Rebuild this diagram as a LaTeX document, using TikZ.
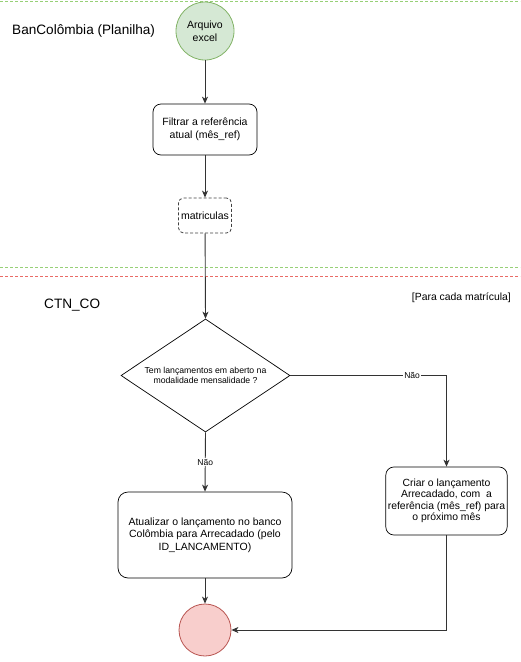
\documentclass[tikz,border=0pt]{standalone}
\usepackage{fontspec}
\setmainfont{Liberation Sans}
\usetikzlibrary{arrows.meta,shapes.geometric}
\definecolor{gfill}{HTML}{D5E8D4}
\definecolor{gline}{HTML}{82B366}
\definecolor{rfill}{HTML}{F8CECC}
\definecolor{rline}{HTML}{B85450}
\definecolor{gsep}{HTML}{97D077}
\definecolor{rsep}{HTML}{EA6B66}
\definecolor{edge}{HTML}{333333}
\tikzset{
  box/.style={draw=black, line width=0.7pt, rounded corners=8pt, align=center, inner sep=2pt, font=\fontsize{10.5}{13.5}\selectfont},
  conn/.style={draw=edge, line width=0.9pt, -{Stealth[length=7pt,width=6pt,inset=2pt]}},
  lbl/.style={fill=white, inner sep=1pt, font=\fontsize{8.5}{10}\selectfont},
  sep/.style={dashed, dash pattern=on 3pt off 2pt, line width=0.7pt},
}
\begin{document}
\begin{tikzpicture}[x=1pt,y=-1pt]
\useasboundingbox (0,0) rectangle (520,662);
% separators
\draw[sep, gsep] (0,1) -- (520,1);
\draw[sep, gsep] (0,267) -- (520,267);
\draw[sep, rsep] (0,276) -- (520,276);
% titles
\node[anchor=west, inner sep=0, font=\fontsize{13.6}{16}\selectfont] (t1) at (12,31) {BanColômbia (Planilha)};
\node[anchor=west, inner sep=0, font=\fontsize{13.6}{16}\selectfont] (t2) at (44,305) {CTN\_CO};
\node[anchor=east, inner sep=0, font=\fontsize{10.4}{12}\selectfont] (t3) at (511,298) {[Para cada matrícula]};
% nodes
\node[circle, draw=gline, fill=gfill, line width=0.8pt, minimum size=58pt, inner sep=0, align=center, font=\fontsize{10.5}{13.5}\selectfont] (start) at (205,31) {Arquivo\\excel};
\node[box, minimum width=104pt, minimum height=51pt] (filt) at (205,129.5) {Filtrar a referência\\atual (mês\_ref)};
\node[draw=black!75, line width=0.8pt, dashed, dash pattern=on 3pt off 2pt, rounded corners=5pt, minimum width=53pt, minimum height=35pt, inner sep=0, font=\fontsize{10.5}{13}\selectfont] (mat) at (205,215.5) {matriculas};
\node[diamond, draw=black, line width=0.7pt, minimum width=169pt, minimum height=113pt, inner sep=0, aspect=1.5, align=center, font=\fontsize{8.7}{10}\selectfont] (dec) at (205.5,375.5) {Tem lançamentos em aberto na\\modalidade mensalidade ?};
\node[box, rounded corners=10pt, minimum width=174pt, minimum height=86pt, font=\fontsize{10.5}{12.5}\selectfont] (upd) at (205,535) {Atualizar o lançamento no banco\\Colômbia para Arrecadado (pelo\\ID\_LANCAMENTO)};
\node[box, minimum width=121pt, minimum height=68pt, font=\fontsize{10.4}{11.4}\selectfont] (cri) at (446.5,501) {Criar o lançamento\\Arrecadado, com\ \ a\\referência (mês\_ref) para\\o próximo mês};
\node[circle, draw=rline, fill=rfill, line width=0.8pt, minimum size=52pt, inner sep=0] (endn) at (205,630) {};
% connectors
\draw[conn] (start) -- (filt);
\draw[conn] (filt) -- (mat);
\draw[conn] (mat) -- (dec.north);
\draw[conn] (dec.east) -| node[lbl, pos=0.39] {Não} (cri.north);
\draw[conn] (dec.south) -- node[lbl, pos=0.5] {Não} (upd.north);
\draw[conn] (upd) -- (endn);
\draw[conn] (cri.south) |- (endn.east);
\end{tikzpicture}
\end{document}
